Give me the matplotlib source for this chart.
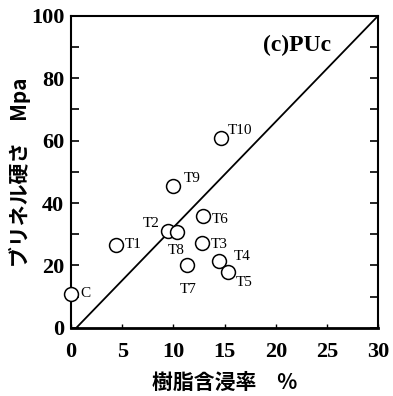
import numpy as np
import matplotlib
matplotlib.use("Agg")
import matplotlib.pyplot as plt

# resin impregnation ratio (%) vs Brinell hardness (MPa)
labels = ["C", "T1", "T2", "T8", "T9", "T6", "T3", "T7", "T4", "T5", "T10"]
resin = [0.0, 4.4, 9.5, 10.3, 10.0, 12.9, 12.8, 11.3, 14.5, 15.3, 14.6]
hardness = [11.0, 26.5, 31.0, 30.7, 45.5, 35.7, 27.3, 20.3, 21.5, 18.0, 61.0]

# label offsets in pixels (dx, dy) and alignment
label_pos = {
    "C": (9, 0, "left"), "T1": (9, 1, "left"), "T2": (-17, 8, "center"),
    "T8": (0, -18, "center"), "T9": (10, 7, "left"), "T6": (9, -3, "left"),
    "T3": (9, -2, "left"), "T7": (1, -25, "center"), "T4": (14, 4, "left"),
    "T5": (8, -11, "left"), "T10": (7, 7, "left"),
}

fit_x = [0.5, 30]
fit_y = [0, 100]

serif = ["Liberation Serif", "DejaVu Serif"]
cjk = ["Noto Sans CJK JP", "DejaVu Sans"]

fig = plt.figure(figsize=(3.93, 3.96), dpi=100)
ax = fig.add_axes([0.181, 0.172, 0.781, 0.788])

ax.plot(fit_x, fit_y, color="black", lw=1.3)
ax.plot(resin, hardness, "o", mfc="white", mec="black", ms=10, mew=1.1,
        clip_on=False, zorder=3)

for lab, x, y in zip(labels, resin, hardness):
    dx, dy, ha = label_pos[lab]
    ax.annotate(lab, (x, y), xytext=(dx, dy), textcoords="offset pixels",
                ha=ha, va="center", fontsize=11, family=serif)

ax.text(22.1, 90.4, "(c)PUc", ha="center", va="center", fontsize=17,
        fontweight="bold", family=serif)

ax.set_xlim(0, 30)
ax.set_ylim(0, 100)
ax.set_xticks(np.arange(0, 31, 5))
ax.set_yticks(np.arange(0, 101, 20))
ax.set_yticks(np.arange(10, 100, 20), minor=True)
ax.tick_params(axis="y", which="both", direction="in", length=6, width=1.2,
               right=True, pad=5)
ax.tick_params(axis="x", direction="in", length=3, width=1, pad=10)
for lbl in ax.get_xticklabels() + ax.get_yticklabels():
    lbl.set_family(serif)
    lbl.set_fontweight("bold")
    lbl.set_fontsize(16)

for s in ax.spines.values():
    s.set_linewidth(1.5)
ax.spines["bottom"].set_linewidth(2)

ax.set_xlabel("樹脂含浸率\u3000%", family=cjk, fontweight="bold", fontsize=15,
              labelpad=7)
ax.set_ylabel("ブリネル硬さ\u3000Mpa", family=cjk, fontweight="bold", fontsize=15,
              labelpad=0)

fig.savefig("out.png", dpi=100)
